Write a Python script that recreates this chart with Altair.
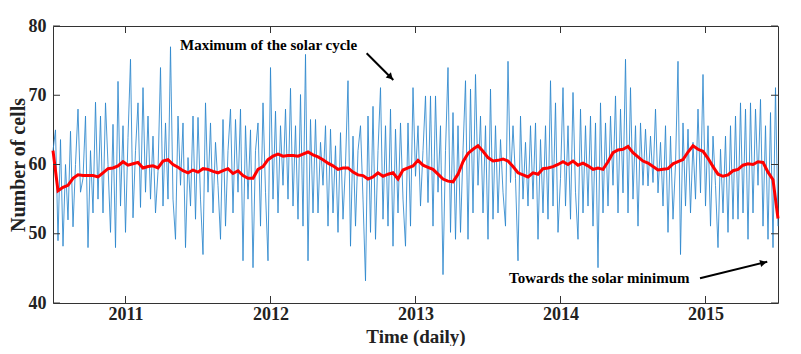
import altair as alt
import pandas as pd

# ---------------- data ----------------
# daily counts, sampled every 1/58 year starting mid-2010
blue_vals = [
    62, 65, 49, 63.6, 48.2, 60, 52, 64.8, 51, 60, 68, 56, 58, 67, 48, 62, 53, 69, 55, 67,
    53, 68.9, 60, 50.2, 65.8, 48, 72, 54, 65.6, 50.2, 63.9, 75.2, 52.3, 62, 68.9, 53.8, 71.1, 56, 67, 55,
    64.1, 53, 59, 74, 54, 66, 55, 77, 55,
    49.2, 67, 57, 66, 48, 61, 54, 67, 52.1, 66.8, 55, 47, 68.9, 56, 66, 53, 63.2, 57, 49.2, 66.5,
    51.1, 62, 68, 53, 66.5, 56, 68, 46.1, 65.6, 55, 65, 45.1, 62, 66, 51.1, 68.9, 56, 46.1, 74, 55,
    67.7, 53, 65.6, 57, 68, 55, 71, 54, 65.6, 52.1,
    70.1, 51.1, 75.9, 46.1, 66.5, 53, 66.5, 53, 63.2, 57, 65.6, 51.1, 65.1, 53, 62.7, 50.2, 64.6, 52.1, 60, 72.1,
    48.2, 64.1, 51.1, 62, 65.6, 55, 43.2, 67, 50.2, 68.4, 49.2, 62, 71.1, 52.1, 65.6, 51.1, 68, 48.2, 65.1, 53,
    66, 55, 48.2, 66, 51.1, 71.1,
    58.3, 65.6, 54, 62, 69.9, 54.5, 69.9, 51.1, 69.9, 56, 65.6, 44.1, 62, 74, 50.2, 67.5, 49.2, 65.6, 50.2, 62,
    72.1, 49.2, 70.9, 53, 73, 57, 67, 53, 65.6, 49.2, 70.9, 52.1, 65.6, 53, 63.6, 56, 51.1, 74.9, 57.4, 65.6,
    58, 46.1, 67, 55, 63.2, 54, 65.6, 55, 66,
    49.2, 63.6, 53, 65.6, 52.1, 72.1, 54, 68.9, 50.2, 58, 71.1, 54, 65.6, 52.1, 70.4, 56, 49.2, 68, 53, 65.6,
    54, 67, 51.1, 66, 45.1, 68.9, 53, 66, 54, 67, 57, 69.9, 53, 68, 55.9, 75.2, 53, 71.1, 55, 65.6,
    51.1, 66, 57, 65.1, 56.9, 64.1, 57.4,
    68, 55.9, 63.2, 54, 65.6, 50.2, 64.1, 52.1, 60, 74.9, 47, 66, 54, 65.1, 53, 63.2, 55, 68, 55.9, 73,
    54, 65.6, 51.1, 64.1, 57, 48, 62.2, 53, 64.1, 50.2, 65.6, 52.1, 67, 52.1, 68.9, 53, 68, 49.2, 68.9, 53,
    68, 57, 69.4, 51.1, 65.6, 49.2, 67.5, 48, 71.1, 51.1,
]

# smoothed (moving average) curve, sampled every 1/29 year
red_vals = [
    62.0, 56.2, 56.7, 57.0, 58.0, 58.5, 58.4, 58.4, 58.4, 58.2,
    58.8, 59.4, 59.5, 59.8, 60.4, 59.9, 60.1, 60.3, 59.5, 59.7,
    59.8, 59.5, 60.5, 60.7, 60.0, 59.6, 59.1, 58.8, 59.2, 58.9,
    59.4, 59.3, 59.0, 58.8, 59.1, 59.4, 58.7, 59.1, 58.4, 58.0,
    58.0, 59.3, 59.7, 60.7, 61.2, 61.5, 61.2, 61.3, 61.3, 61.2,
    61.5, 61.8, 61.4, 61.1, 60.7, 60.2, 59.8, 59.3, 59.5, 59.5,
    58.9, 58.5, 58.4, 57.9, 58.2, 58.8, 58.3, 58.6, 58.8, 57.9,
    59.2, 59.5, 59.8, 60.6, 59.9, 59.6, 59.3, 58.6, 57.9, 57.6,
    57.5, 58.6, 60.4, 61.6, 62.2, 62.7, 61.9, 61.0, 60.5, 60.6,
    60.8, 60.5, 59.7, 58.8, 58.5, 58.2, 58.8, 58.6, 59.4, 59.5,
    59.7, 60.0, 60.4, 60.0, 60.5, 59.9, 60.2, 59.8, 59.3, 59.5,
    59.3, 60.4, 61.7, 62.1, 62.2, 62.6, 61.7, 61.1, 60.5, 60.2,
    59.7, 59.2, 59.3, 59.4, 60.1, 60.4, 60.7, 61.8, 62.7, 62.2,
    61.9, 60.9, 59.7, 58.6, 58.3, 58.5, 59.1, 59.3, 59.9, 60.1,
    60.0, 60.4, 60.3, 58.9, 57.8, 52.2,
]

start_year = 2010.5
end_year = 2015.5
year_ticks = [2011, 2012, 2013, 2014, 2015]
y_ticks = [40, 50, 60, 70, 80]

ann_text = ["Maximum of the solar cycle", "Towards the solar minimum"]
ann_year = [2011.376, 2013.645]
ann_cells = [76.6, 42.85]

arrow_year = [2012.663, 2014.962]
arrow_cells = [76.06, 43.57]
arrow_year2 = [2012.847, 2015.426]
arrow_cells2 = [72.2, 45.96]
head_year = [2012.828, 2015.399]
head_cells = [72.6, 45.82]
head_angle = [135, 76]

# ---------------- tables ----------------
blue_df = pd.DataFrame({"year": [start_year + i / 58 for i in range(len(blue_vals))], "cells": blue_vals})
red_df = pd.DataFrame({"year": [start_year + i / 29 for i in range(len(red_vals))], "cells": red_vals})
ann_df = pd.DataFrame({"year": ann_year, "cells": ann_cells, "label": ann_text})
arrow_df = pd.DataFrame({"year": arrow_year, "cells": arrow_cells, "year2": arrow_year2, "cells2": arrow_cells2})
head_df = pd.DataFrame({"year": head_year, "cells": head_cells, "angle": head_angle})
xtick_df = pd.DataFrame({"year": year_ticks})
ytick_df = pd.DataFrame({"cells": y_ticks})

FONT = "Liberation Serif"
W, H = 725, 277

xscale = alt.Scale(domain=[start_year, end_year], nice=False, zero=False)
yscale = alt.Scale(domain=[40, 80], nice=False, zero=False)

x_enc = alt.X(
    "year:Q", scale=xscale,
    axis=alt.Axis(values=year_ticks, format="d", title="Time (daily)",
                  titleX=W / 2, titleY=39, titleBaseline="alphabetic", titleFontSize=19,
                  labelPadding=2),
)
y_enc = alt.Y(
    "cells:Q", scale=yscale,
    axis=alt.Axis(values=y_ticks, format="d", title="Number of cells",
                  titleX=-29, titleY=H / 2, titleBaseline="alphabetic",
                  labelPadding=7),
)

blue = alt.Chart(blue_df).mark_line(color="#2a86cc", strokeWidth=0.9, opacity=0.95).encode(x=x_enc, y=y_enc)
red = alt.Chart(red_df).mark_line(color="#FF0000", strokeWidth=3).encode(x=x_enc, y=y_enc)

xt_bottom = alt.Chart(xtick_df).mark_rule(color="#333333", strokeWidth=1).encode(
    x=x_enc, y=alt.value(H), y2=alt.value(H - 7))
xt_top = alt.Chart(xtick_df).mark_rule(color="#333333", strokeWidth=1).encode(
    x=x_enc, y=alt.value(0), y2=alt.value(7))
yt_left = alt.Chart(ytick_df).mark_rule(color="#333333", strokeWidth=1).encode(
    y=y_enc, x=alt.value(0), x2=alt.value(7))
yt_right = alt.Chart(ytick_df).mark_rule(color="#333333", strokeWidth=1).encode(
    y=y_enc, x=alt.value(W), x2=alt.value(W - 7))

texts = alt.Chart(ann_df).mark_text(
    font=FONT, fontWeight="bold", fontSize=15, align="left", baseline="alphabetic", color="#000000"
).encode(x=x_enc, y=y_enc, text="label:N")

arrows = alt.Chart(arrow_df).mark_rule(color="#000000", strokeWidth=2).encode(
    x=x_enc, y=y_enc, x2="year2:Q", y2="cells2:Q")
heads = alt.Chart(head_df).mark_point(
    shape="triangle-up", filled=True, color="#000000", size=55, opacity=1
).encode(x=x_enc, y=y_enc, angle=alt.Angle("angle:Q", scale=None))

chart = alt.layer(
    blue, red, xt_bottom, xt_top, yt_left, yt_right, texts, arrows, heads
).properties(
    width=W, height=H,
    padding={"left": 45, "top": 18, "right": 15, "bottom": 43},
    autosize=alt.AutoSizeParams(type="none"),
).configure_view(
    stroke="#333333", strokeWidth=1
).configure_axis(
    grid=False, domain=False, ticks=False, tickSize=0,
    labelFont=FONT, labelFontWeight="bold", labelFontSize=18, labelColor="#222222",
    titleFont=FONT, titleFontWeight="bold", titleFontSize=20, titleColor="#222222",
)

chart.save("out.html", embed_options={"renderer": "svg", "actions": False})
